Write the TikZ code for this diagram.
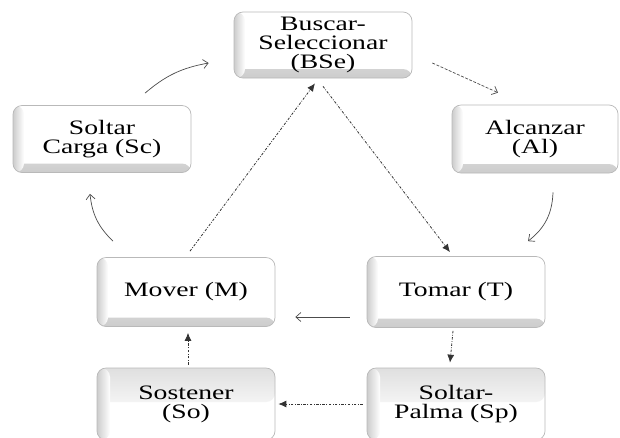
\documentclass[tikz,border=0pt]{standalone}
\usepackage{fontspec}
\setmainfont{Liberation Serif}[FakeStretch=1.35]
\usetikzlibrary{arrows.meta,calc}
\tikzset{
  box/.style={draw=gray!55, line width=0.7pt, rounded corners=9pt, fill=white,
    minimum width=178pt, minimum height=68pt, align=center, inner sep=0pt,
    font=\fontsize{20.5}{19}\selectfont, text=black,
    path picture={
      \shade[bottom color=gray!40, top color=white] (path picture bounding box.south west) rectangle ([yshift=9pt]path picture bounding box.south east);
      \shade[left color=gray!40, right color=white] (path picture bounding box.south west) rectangle ([xshift=11pt]path picture bounding box.north west);
    }},
  lowbox/.style={minimum height=72pt,
    path picture={
      \shade[top color=gray!25, bottom color=white, middle color=gray!8] (path picture bounding box.north west) rectangle ([yshift=-34pt]path picture bounding box.north east);
      \shade[left color=gray!40, right color=white] (path picture bounding box.south west) rectangle ([xshift=13pt]path picture bounding box.north west);
    }},
  flow/.style={draw=black!70, line width=0.7pt, -{Straight Barb[length=5pt,width=9pt]}},
  dflow/.style={flow, dash pattern=on 3pt off 1.5pt},
  seq/.style={draw=black!80, line width=0.8pt, dash pattern=on 2.5pt off 1.5pt on 0.8pt off 1.5pt, -{Latex[length=8pt,width=7pt]}},
}
\begin{document}
\begin{tikzpicture}[x=1pt,y=-1pt]
\useasboundingbox[fill=white] (0,0) rectangle (620,437);
\node[box, minimum height=66pt] (BSe) at (323,45) {Buscar-\\Seleccionar\\(BSe)};
\node[box, minimum height=67pt] (Sc) at (102,139) {Soltar\\Carga (Sc)};
\node[box, minimum width=166pt] (Al) at (535,139) {Alcanzar\\(Al)};
\node[box, minimum height=69pt] (M) at (186,292) {Mover (M)};
\node[box, minimum height=71pt] (T) at (456,292) {Tomar (T)};
\node[box, lowbox] (So) at (186,404) {Sostener\\(So)};
\node[box, lowbox] (Sp) at (456,404) {Soltar-\\Palma (Sp)};
% cycle
\draw[flow] ($(Sc.north)+(43,-12)$) to[bend left=15] ($(BSe.west)+(-25,18)$);
\draw[dflow] ($(BSe.east)+(20,18)$) -- ($(Al.north)+(-37,-12)$);
\draw[flow] ($(Al.south)+(18,19)$) to[bend left=25] ($(T.north)+(72,-15)$);
\draw[flow] ($(T.west)+(-17,25)$) -- ($(M.east)+(20,25)$);
\draw[flow] ($(M.north)+(-73,-16)$) to[bend left=20] ($(Sc.south)+(-12,21)$);
% sequence
\draw[seq] ($(M.north)+(4,-6)$) -- ($(BSe.south)+(-8,5)$);
\draw[seq] ($(BSe.south)+(0,8)$) -- ($(T.north)+(-6,-4)$);
\draw[seq] ($(T.south)+(-3,3)$) -- ($(Sp.north)+(-6,-5)$);
\draw[seq] ($(Sp.west)+(-4,0)$) -- ($(So.east)+(3,0)$);
\draw[seq] ($(So.north)+(2,-3)$) -- ($(M.south)+(2,6)$);
\end{tikzpicture}
\end{document}
